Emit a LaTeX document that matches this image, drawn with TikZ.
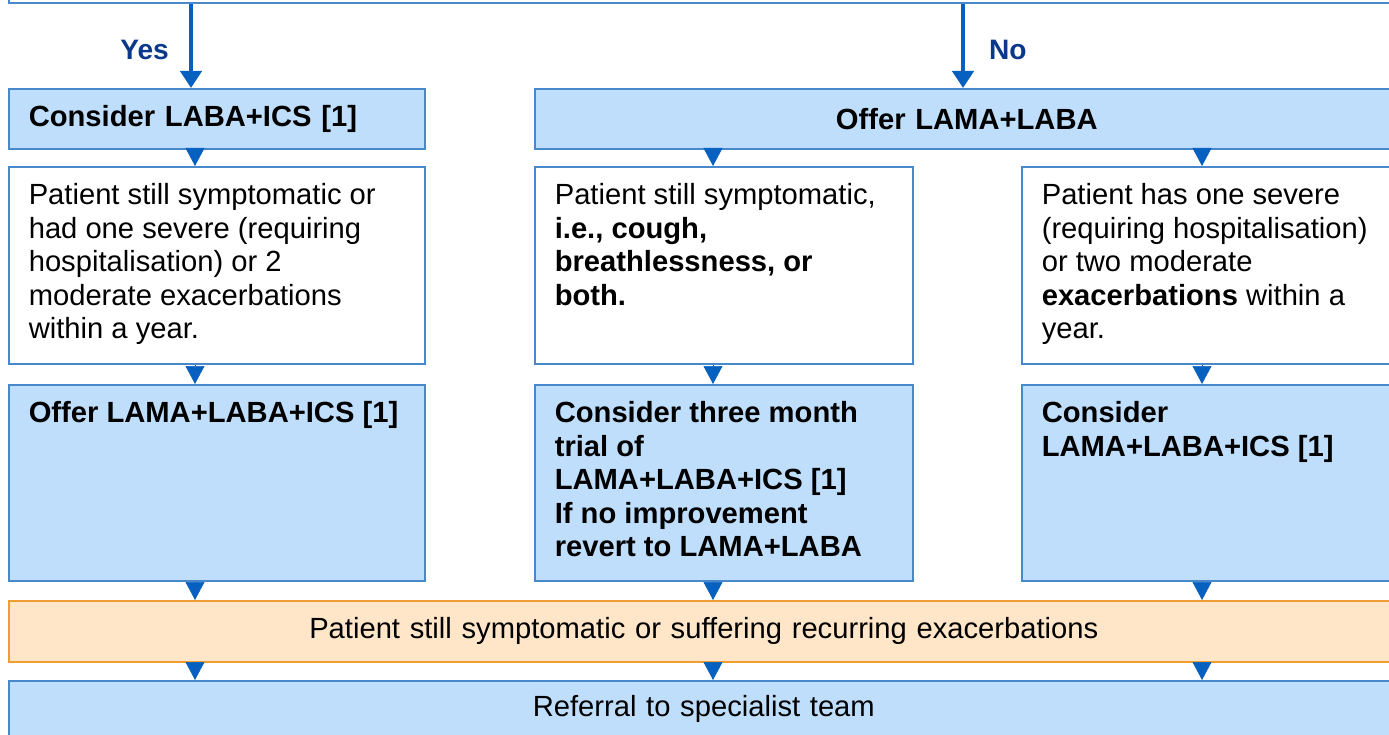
\documentclass[tikz,border=0pt]{standalone}
\usepackage{fontspec}
\setmainfont{Liberation Sans}
\usepackage{tikz}
\usetikzlibrary{arrows.meta,positioning,calc}

\definecolor{edgeblue}{RGB}{74,136,204}
\definecolor{paleblue}{RGB}{190,222,252}
\definecolor{arrowblue}{RGB}{5,96,192}
\definecolor{answerblue}{RGB}{12,56,140}
\definecolor{paleorange}{RGB}{255,230,200}
\definecolor{edgeorange}{RGB}{240,158,52}

% text set at the top of a fixed size cell
\newcommand{\cell}[3]{\parbox[c][\dimexpr#2-0.68cm\relax][t]{\dimexpr#1-0.8cm\relax}{\raggedright #3}}

\begin{document}
\begin{tikzpicture}
\tikzset{
  box/.style={rectangle, draw=edgeblue, line width=0.9pt, anchor=north west,
              font=\fontsize{16.6}{19}\selectfont, inner xsep=0.4cm},
  plain/.style={box, fill=white, inner ysep=0.34cm},
  shaded/.style={box, fill=paleblue, inner ysep=0.34cm},
  bar/.style={box, fill=paleblue, inner ysep=0pt},
  warn/.style={box, draw=edgeorange, fill=paleorange, inner ysep=0pt},
  trunk/.style={draw=arrowblue, line width=2.6pt, -{Triangle[width=0.42cm,length=0.34cm]}},
  tri/.style={draw=arrowblue, line width=0.4pt, -{Triangle[width=0.38cm,length=0.36cm]}},
  answer/.style={font=\fontsize{16}{19}\selectfont\bfseries, text=answerblue}
}

\useasboundingbox (0,0) rectangle (27.78,-14.7);

% column positions of the connectors
\coordinate (yesline) at (3.82,0);
\coordinate (noline) at (19.26,0);
\coordinate (colA) at (3.9,0);
\coordinate (colB) at (14.26,0);
\coordinate (colC) at (24.04,0);

% The boxes
\node (question) [box, anchor=south west, fill=white, minimum width=27.8cm, minimum height=1cm] at (0.16,-0.08) {};

\node (laba) [bar, minimum height=1.2cm, text width=7.52cm, align=left] at (0.16,-1.76)
  {\bfseries Consider LABA+ICS [1]};
\node (lamalaba) [bar, minimum height=1.2cm, text width=16.48cm, align=center] at (10.68,-1.76)
  {\bfseries Offer LAMA+LABA};

\node (sympA) [plain] at (0.16,-3.32) {\cell{8.32cm}{3.94cm}{Patient still symptomatic or\\
  had one severe (requiring\\ hospitalisation) or 2\\ moderate exacerbations\\ within a year.}};
\node (sympB) [plain] at (10.68,-3.32) {\cell{7.56cm}{3.94cm}{Patient still symptomatic,\\
  \textbf{i.e., cough,}\\ \textbf{breathlessness, or}\\ \textbf{both.}}};
\node (sympC) [plain] at (20.42,-3.32) {\cell{7.54cm}{3.94cm}{Patient has one severe\\
  (requiring hospitalisation)\\ or two moderate\\ \textbf{exacerbations} within a\\ year.}};

\node (tripleA) [shaded] at (0.16,-7.68) {\cell{8.32cm}{3.92cm}{\bfseries Offer LAMA+LABA+ICS [1]}};
\node (tripleB) [shaded] at (10.68,-7.68) {\cell{7.56cm}{3.92cm}{\bfseries Consider three month\\
  trial of\\ LAMA+LABA+ICS [1]\\ If no improvement\\ revert to LAMA+LABA}};
\node (tripleC) [shaded] at (20.42,-7.68) {\cell{7.54cm}{3.92cm}{\bfseries Consider\\ LAMA+LABA+ICS [1]}};

\node (recur) [warn, minimum height=1.22cm, text width=27cm, align=center] at (0.16,-12.0)
  {Patient still symptomatic or suffering recurring exacerbations};
\node (referral) [bar, minimum height=1.12cm, text width=27cm, align=center] at (0.16,-13.6)
  {Referral to specialist team};

% The arrows
\draw [trunk] (question.south -| yesline) -- node[answer, pos=0.55, left=0.28cm] {Yes} (laba.north -| yesline);
\draw [trunk] (question.south -| noline) -- node[answer, pos=0.55, right=0.36cm] {No} (lamalaba.north -| noline);

\draw [tri] (laba.south -| colA) -- (sympA.north -| colA);
\draw [tri] (lamalaba.south -| colB) -- (sympB.north -| colB);
\draw [tri] (lamalaba.south -| colC) -- (sympC.north -| colC);
\foreach \c in {A,B,C} {
  \draw [tri] (symp\c.south -| col\c) -- (triple\c.north -| col\c);
  \draw [tri] (triple\c.south -| col\c) -- (recur.north -| col\c);
  \draw [tri] (recur.south -| col\c) -- (referral.north -| col\c);
}
\end{tikzpicture}
\end{document}
